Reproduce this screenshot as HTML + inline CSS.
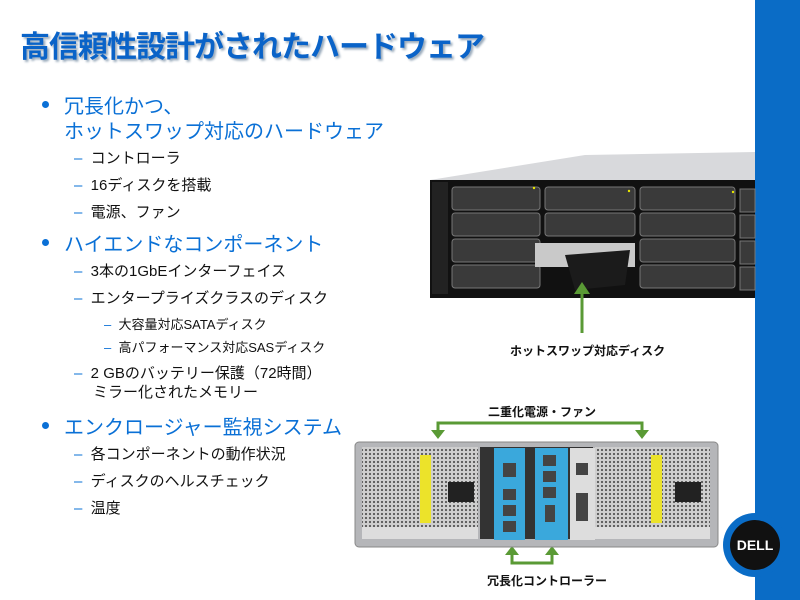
<!DOCTYPE html>
<html><head><meta charset="utf-8"><style>
body{margin:0;width:800px;height:600px;position:relative;background:#fff;overflow:hidden;font-family:"Liberation Sans","Noto Sans CJK JP",sans-serif}
.a{position:absolute;white-space:nowrap}
.t{left:20px;top:22px;font-size:30px;font-weight:bold;color:#0a63c8;letter-spacing:-1px;text-shadow:2px 2px 2px #9ab}
.l1{font-size:20px;color:#0a70d6}
.l2{font-size:15px;color:#111}
.l3{font-size:13px;color:#111}
.b{color:#0a70d6}
.dot{position:absolute;width:7px;height:7px;border-radius:50%;background:#0a70d6}
.lab{font-size:12px;font-weight:bold;color:#111}
</style></head><body>
<div class="a" style="left:755px;top:0;width:45px;height:600px;background:#0a6cc6"></div>
<div class="a t">高信頼性設計がされたハードウェア</div>

<div class="dot" style="left:42px;top:101px"></div>
<div class="a l1" style="left:64px;top:90px">冗長化かつ、</div>
<div class="a l1" style="left:64px;top:115px">ホットスワップ対応のハードウェア</div>
<div class="a l2" style="left:74px;top:147px"><span class="b">–</span>&nbsp;&nbsp;コントローラ</div>
<div class="a l2" style="left:74px;top:174px"><span class="b">–</span>&nbsp;&nbsp;16ディスクを搭載</div>
<div class="a l2" style="left:74px;top:201px"><span class="b">–</span>&nbsp;&nbsp;電源、ファン</div>
<div class="dot" style="left:42px;top:239px"></div>
<div class="a l1" style="left:64px;top:228px">ハイエンドなコンポーネント</div>
<div class="a l2" style="left:74px;top:260px"><span class="b">–</span>&nbsp;&nbsp;3本の1GbEインターフェイス</div>
<div class="a l2" style="left:74px;top:287px"><span class="b">–</span>&nbsp;&nbsp;エンタープライズクラスのディスク</div>
<div class="a l3" style="left:104px;top:314px"><span class="b">–</span>&nbsp;&nbsp;大容量対応SATAディスク</div>
<div class="a l3" style="left:104px;top:337px"><span class="b">–</span>&nbsp;&nbsp;高パフォーマンス対応SASディスク</div>
<div class="a l2" style="left:74px;top:362px"><span class="b">–</span>&nbsp;&nbsp;2 GBのバッテリー保護（72時間）</div>
<div class="a l2" style="left:93px;top:381px">ミラー化されたメモリー</div>
<div class="dot" style="left:42px;top:422px"></div>
<div class="a l1" style="left:64px;top:411px">エンクロージャー監視システム</div>
<div class="a l2" style="left:74px;top:443px"><span class="b">–</span>&nbsp;&nbsp;各コンポーネントの動作状況</div>
<div class="a l2" style="left:74px;top:470px"><span class="b">–</span>&nbsp;&nbsp;ディスクのヘルスチェック</div>
<div class="a l2" style="left:74px;top:497px"><span class="b">–</span>&nbsp;&nbsp;温度</div>

<svg class="a" style="left:0;top:0" width="800" height="600">
<defs>
<pattern id="h" width="4" height="4" patternUnits="userSpaceOnUse"><rect width="4" height="4" fill="#cfcfcf"/><circle cx="2" cy="2" r="1.1" fill="#555"/></pattern>
</defs>
<polygon points="430,180 585,155 755,152 755,182 430,182" fill="#d8d9dc"/>
<rect x="430" y="180" width="325" height="118" fill="#111"/>
<rect x="432" y="182" width="16" height="112" fill="#222"/>
<g fill="#3a3a3a" stroke="#777" stroke-width="1">
<rect x="452" y="187" width="88" height="23" rx="3"/><rect x="545" y="187" width="90" height="23" rx="3"/><rect x="640" y="187" width="95" height="23" rx="3"/>
<rect x="452" y="213" width="88" height="23" rx="3"/><rect x="545" y="213" width="90" height="23" rx="3"/><rect x="640" y="213" width="95" height="23" rx="3"/>
<rect x="452" y="239" width="88" height="23" rx="3"/><rect x="640" y="239" width="95" height="23" rx="3"/>
<rect x="452" y="265" width="88" height="23" rx="3"/><rect x="640" y="265" width="95" height="23" rx="3"/>
<rect x="740" y="189" width="15" height="23"/><rect x="740" y="215" width="15" height="23"/><rect x="740" y="241" width="15" height="23"/><rect x="740" y="267" width="15" height="23"/>
</g>
<rect x="535" y="243" width="100" height="24" fill="#c9c9c9"/>
<polygon points="565,255 630,250 625,285 575,290" fill="#1b1b1b"/>
<g fill="#e7e600"><circle cx="534" cy="188" r="1.2"/><circle cx="629" cy="191" r="1.2"/><circle cx="733" cy="192" r="1.2"/></g>
<line x1="582" y1="333" x2="582" y2="292" stroke="#5a9a35" stroke-width="3"/>
<polygon points="574,294 582,282 590,294" fill="#5a9a35"/>
<polyline points="438,435 438,423 642,423 642,435" fill="none" stroke="#5a9a35" stroke-width="3"/>
<polygon points="431,430 445,430 438,439" fill="#5a9a35"/><polygon points="635,430 649,430 642,439" fill="#5a9a35"/>
<polyline points="512,553 512,563 552,563 552,553" fill="none" stroke="#5a9a35" stroke-width="3"/>
<polygon points="505,555 519,555 512,546" fill="#5a9a35"/><polygon points="545,555 559,555 552,546" fill="#5a9a35"/>
<rect x="355" y="442" width="363" height="105" rx="4" fill="#b5b6b9" stroke="#888"/>
<rect x="362" y="447" width="116" height="90" fill="url(#h)"/>
<rect x="595" y="447" width="115" height="90" fill="url(#h)"/>
<rect x="420" y="455" width="11" height="68" fill="#ece32a"/><rect x="651" y="455" width="11" height="68" fill="#ece32a"/>
<rect x="448" y="482" width="26" height="20" fill="#222"/><rect x="675" y="482" width="26" height="20" fill="#222"/>
<rect x="362" y="527" width="116" height="12" fill="#ddd"/><rect x="595" y="527" width="115" height="12" fill="#ddd"/>
<rect x="480" y="447" width="113" height="92" fill="#333"/>
<rect x="494" y="448" width="31" height="92" fill="#3aa8dc"/>
<rect x="535" y="448" width="33" height="92" fill="#3aa8dc"/>
<rect x="570" y="448" width="25" height="92" fill="#ddd"/>
<g fill="#444"><rect x="503" y="463" width="13" height="14"/><rect x="503" y="489" width="13" height="11"/><rect x="503" y="505" width="13" height="11"/><rect x="503" y="521" width="13" height="11"/>
<rect x="543" y="455" width="13" height="11"/><rect x="543" y="471" width="13" height="11"/><rect x="543" y="487" width="13" height="11"/><rect x="545" y="505" width="10" height="17"/>
<rect x="576" y="463" width="12" height="12"/><rect x="576" y="493" width="12" height="28"/></g>
<circle cx="755" cy="545" r="32" fill="#0a6cc6"/>
<circle cx="755" cy="545" r="25" fill="#111"/>
<text x="755" y="550" text-anchor="middle" font-family="Liberation Sans" font-weight="bold" font-size="14" fill="#fff">DELL</text>
</svg>
<div class="a lab" style="left:510px;top:342px">ホットスワップ対応ディスク</div>
<div class="a lab" style="left:488px;top:403px">二重化電源・ファン</div>
<div class="a lab" style="left:487px;top:572px">冗長化コントローラー</div>
</body></html>
